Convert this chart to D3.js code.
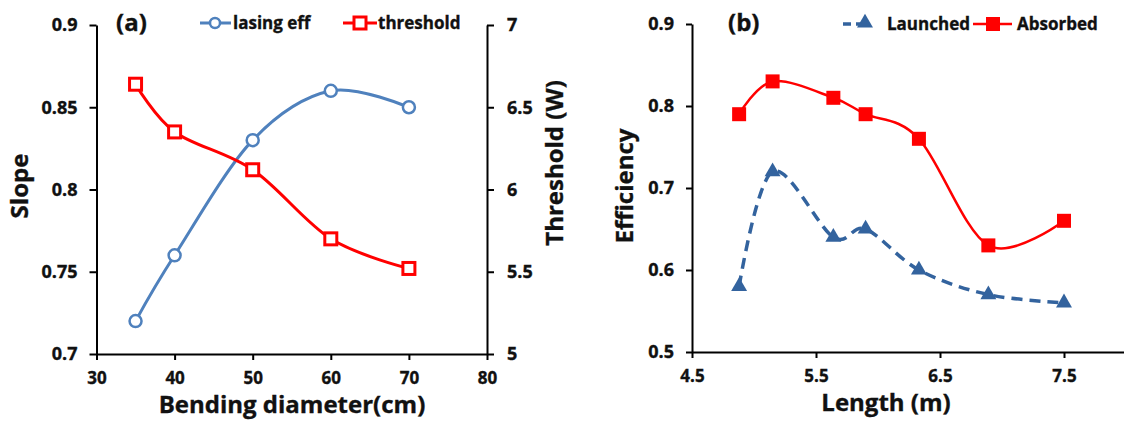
<!DOCTYPE html>
<html>
<head>
<meta charset="utf-8">
<script src="https://cdn.jsdelivr.net/npm/d3@7"></script>
<style>
  html, body { margin: 0; padding: 0; background: #fff; }
  svg { display: block; }
  text { font-family: "Open Sans", "Liberation Sans", sans-serif; font-weight: 700; fill: #111;
         stroke: #111; stroke-width: 0.35px; }
</style>
</head>
<body>
<svg id="chart" width="1124" height="425"></svg>
<script>
// Panel (a): slope efficiency and threshold vs. bending diameter
const diameters = [35, 40, 50, 60, 70];
const lasingEff = [0.72, 0.76, 0.83, 0.86, 0.85];
const thresholdW = [6.64, 6.35, 6.12, 5.70, 5.52];
const aXTicks = [30, 40, 50, 60, 70, 80];
const aLeftTicks = [0.7, 0.75, 0.8, 0.85, 0.9];
const aRightTicks = [5, 5.5, 6, 6.5, 7];

// Panel (b): efficiency vs. fibre length
const lengths = [4.88, 5.15, 5.64, 5.9, 6.33, 6.89, 7.5];
const launched = [0.58, 0.72, 0.64, 0.65, 0.60, 0.57, 0.56];
const absorbed = [0.79, 0.83, 0.81, 0.79, 0.76, 0.63, 0.66];
const bXTicks = [4.5, 5.5, 6.5, 7.5];
const bYTicks = [0.5, 0.6, 0.7, 0.8, 0.9];

const svg = d3.select("#chart");
const BLUE = "#4f81bd", RED = "#ff0000", DBLUE = "#33639e";
const smooth = d3.curveCardinal.tension(0);

function styleAxis(g, size) {
  g.select(".domain").attr("stroke", "#000").attr("stroke-width", 2);
  g.selectAll(".tick line").attr("stroke", "#000").attr("stroke-width", 2);
  g.selectAll(".tick text").style("font-size", size + "px").attr("fill", "#111");
}

// ---------- panel (a) ----------
const ax = d3.scaleLinear().domain([30, 80]).range([96.5, 487]);
const ayL = d3.scaleLinear().domain([0.7, 0.9]).range([354, 25]);
const ayR = d3.scaleLinear().domain([5, 7]).range([354, 25]);

svg.append("g").attr("transform", `translate(0,${ayL(0.7)})`)
  .call(d3.axisBottom(ax).tickValues(aXTicks).tickSize(6).tickPadding(12).tickSizeOuter(0)
    .tickFormat(d3.format("d")))
  .call(g => styleAxis(g, 17));
svg.append("g").attr("transform", `translate(${ax(30)},0)`)
  .call(d3.axisLeft(ayL).tickValues(aLeftTicks).tickSize(7).tickPadding(12).tickSizeOuter(0)
    .tickFormat(d => String(+d.toFixed(2))))
  .call(g => styleAxis(g, 18));
svg.append("g").attr("transform", `translate(${ax(80)},0)`)
  .call(d3.axisRight(ayR).tickValues(aRightTicks).tickSize(7).tickPadding(13).tickSizeOuter(0)
    .tickFormat(d => String(d)))
  .call(g => styleAxis(g, 18));

const lineEff = d3.line().x((d, i) => ax(diameters[i])).y(d => ayL(d)).curve(smooth);
const lineThr = d3.line().x((d, i) => ax(diameters[i])).y(d => ayR(d)).curve(smooth);

svg.append("path").datum(lasingEff).attr("d", lineEff)
  .attr("fill", "none").attr("stroke", BLUE).attr("stroke-width", 3);
svg.append("path").datum(thresholdW).attr("d", lineThr)
  .attr("fill", "none").attr("stroke", RED).attr("stroke-width", 3);

svg.selectAll(".effPt").data(lasingEff).join("circle")
  .attr("cx", (d, i) => ax(diameters[i])).attr("cy", d => ayL(d)).attr("r", 6)
  .attr("fill", "#fff").attr("stroke", BLUE).attr("stroke-width", 2.5);
svg.selectAll(".thrPt").data(thresholdW).join("rect")
  .attr("x", (d, i) => ax(diameters[i]) - 6).attr("y", d => ayR(d) - 6)
  .attr("width", 12).attr("height", 12)
  .attr("fill", "#fff").attr("stroke", RED).attr("stroke-width", 3);

// titles and legend (a)
svg.append("text").attr("x", 116).attr("y", 31).style("font-size", "24px").text("(a)");
svg.append("line").attr("x1", 200).attr("x2", 231).attr("y1", 23).attr("y2", 23)
  .attr("stroke", BLUE).attr("stroke-width", 3);
svg.append("circle").attr("cx", 215).attr("cy", 23).attr("r", 5)
  .attr("fill", "#fff").attr("stroke", BLUE).attr("stroke-width", 2.5);
svg.append("text").attr("x", 233).attr("y", 29).style("font-size", "17px").text("lasing eff");
svg.append("line").attr("x1", 343).attr("x2", 377).attr("y1", 23).attr("y2", 23)
  .attr("stroke", RED).attr("stroke-width", 3);
svg.append("rect").attr("x", 354).attr("y", 17).attr("width", 12).attr("height", 12)
  .attr("fill", "#fff").attr("stroke", RED).attr("stroke-width", 3);
svg.append("text").attr("x", 378).attr("y", 29).style("font-size", "17px").text("threshold");

svg.append("text").attr("text-anchor", "middle").style("font-size", "24px")
  .attr("transform", "translate(28,186) rotate(-90)").text("Slope");
svg.append("text").attr("text-anchor", "middle").style("font-size", "24px")
  .attr("transform", "translate(563,163) rotate(-90)").text("Threshold (W)");
svg.append("text").attr("text-anchor", "middle").style("font-size", "24px")
  .attr("x", 292).attr("y", 413).text("Bending diameter(cm)");

// ---------- panel (b) ----------
const bx = d3.scaleLinear().domain([4.5, 8]).range([692, 1126]);
const by = d3.scaleLinear().domain([0.5, 0.9]).range([352, 24]);

svg.append("g").attr("transform", `translate(0,${by(0.5)})`)
  .call(d3.axisBottom(bx).tickValues(bXTicks).tickSize(6).tickPadding(12).tickSizeOuter(0)
    .tickFormat(d3.format(".1f")))
  .call(g => styleAxis(g, 17));
svg.append("g").attr("transform", `translate(${bx(4.5)},0)`)
  .call(d3.axisLeft(by).tickValues(bYTicks).tickSize(6).tickPadding(12).tickSizeOuter(0)
    .tickFormat(d3.format(".1f")))
  .call(g => styleAxis(g, 18));

const lineB = d3.line().x((d, i) => bx(lengths[i])).y(d => by(d)).curve(smooth);
svg.append("path").datum(absorbed).attr("d", lineB)
  .attr("fill", "none").attr("stroke", RED).attr("stroke-width", 2.5);
svg.append("path").datum(launched).attr("d", lineB)
  .attr("fill", "none").attr("stroke", DBLUE).attr("stroke-width", 3.5)
  .attr("stroke-dasharray", "11,7");

svg.selectAll(".absPt").data(absorbed).join("rect")
  .attr("x", (d, i) => bx(lengths[i]) - 7).attr("y", d => by(d) - 7)
  .attr("width", 14).attr("height", 14).attr("fill", RED);
const tri = d3.symbol().type(d3.symbolTriangle).size(110);
svg.selectAll(".lauPt").data(launched).join("path")
  .attr("d", tri)
  .attr("transform", (d, i) => `translate(${bx(lengths[i])},${by(d)})`)
  .attr("fill", DBLUE);

// titles and legend (b)
svg.append("text").attr("x", 728).attr("y", 31).style("font-size", "24px").text("(b)");
svg.append("line").attr("x1", 843).attr("x2", 868).attr("y1", 24).attr("y2", 24)
  .attr("stroke", DBLUE).attr("stroke-width", 3.5).attr("stroke-dasharray", "8,5");
svg.append("path").attr("d", tri).attr("transform", "translate(865,23)").attr("fill", DBLUE);
svg.append("text").attr("x", 887).attr("y", 30).style("font-size", "17px").text("Launched");
svg.append("line").attr("x1", 973).attr("x2", 1012).attr("y1", 24).attr("y2", 24)
  .attr("stroke", RED).attr("stroke-width", 2.5);
svg.append("rect").attr("x", 986).attr("y", 17).attr("width", 14).attr("height", 14).attr("fill", RED);
svg.append("text").attr("x", 1017).attr("y", 30).style("font-size", "17px").text("Absorbed");

svg.append("text").attr("text-anchor", "middle").style("font-size", "24px")
  .attr("transform", "translate(633,186) rotate(-90)").text("Efficiency");
svg.append("text").attr("text-anchor", "middle").style("font-size", "24px")
  .attr("x", 886).attr("y", 411).text("Length (m)");
</script>
</body>
</html>
